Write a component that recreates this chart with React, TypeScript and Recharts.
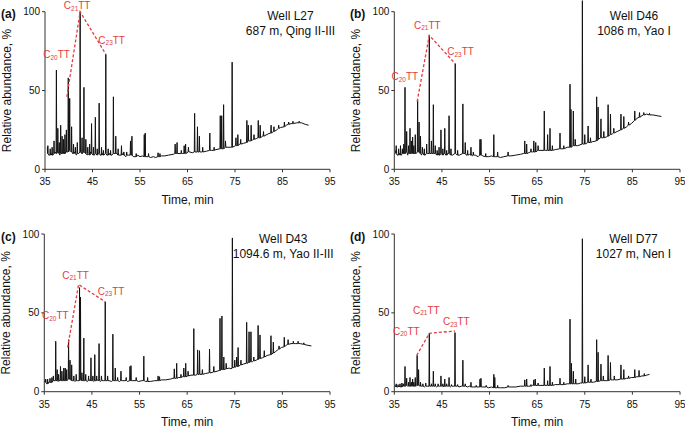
import React from 'react';
import { ComposedChart, Line, XAxis, YAxis, ReferenceLine, LabelList } from 'recharts';

type Peak = [number, number, number]; // time, base, top
type Pt = [number, number]; // time, value

const timeTicks = [35, 45, 55, 65, 75, 85, 95];
const abundanceTicks = [0, 50, 100];
const annotNames = ['20', '21', '23'];

// ---------------- Panel (a) Well L27 ----------------
const peaksA: Peak[] = [
  [35.6, 10, 15], [36.1, 9, 13], [36.5, 9, 14], [36.9, 10, 18], [37.4, 10, 63], [37.7, 11, 26],
  [38.0, 10, 17], [38.3, 10, 28], [38.6, 10, 21], [38.9, 10, 19], [39.2, 10, 22], [39.5, 11, 25],
  [39.9, 11, 58], [40.2, 12, 45], [40.6, 11, 27], [41.0, 10, 16], [41.4, 10, 14], [41.8, 10, 17],
  [42.4, 11, 100], [42.8, 10, 20], [43.2, 11, 52], [43.6, 10, 19], [44.0, 10, 14], [44.4, 9, 16],
  [44.8, 10, 29], [45.2, 9, 14], [45.6, 10, 33], [46.0, 9, 13], [46.4, 10, 42], [46.9, 9, 14],
  [47.3, 9, 12], [47.8, 10, 73], [48.3, 9, 13], [48.8, 9, 12], [49.4, 10, 46], [49.9, 10, 21],
  [50.4, 9, 13], [51.1, 9, 15], [51.6, 9, 11], [52.2, 9, 11], [53.0, 9, 18], [53.3, 9, 21],
  [54.2, 8, 10], [55.9, 8, 22], [56.1, 8, 23], [56.8, 8, 10], [58.8, 8, 10.5], [59.2, 8, 10],
  [62.4, 10, 16], [62.8, 10, 17], [63.7, 10, 12], [64.3, 10, 15], [64.6, 10, 16], [65.2, 11, 14],
  [66.5, 11, 35.5], [67.1, 11, 27], [67.5, 11, 21], [68.2, 11, 14], [69.7, 12, 23], [70.6, 12, 14],
  [71.9, 13, 34], [72.2, 13, 34], [72.6, 13, 41], [73.0, 14, 18], [74.4, 14, 68], [75.2, 15, 20],
  [75.6, 15, 22], [76.2, 16, 19], [77.5, 17, 31], [77.8, 18, 28], [78.4, 18, 28], [79.0, 19, 22],
  [79.9, 20, 31], [80.3, 20, 28], [81.0, 21, 24], [82.6, 23, 28], [83.2, 24, 27], [84.2, 26, 28],
  [85.4, 27, 30], [86.3, 28.5, 30], [87.2, 29, 30.5], [88.5, 29.5, 30.5],
];
const baseA: Pt[] = [
  [35.5, 14], [35.8, 9], [36.3, 10], [36.7, 9], [37.1, 11], [38.1, 9], [39.0, 11], [40.8, 10],
  [41.2, 11], [41.6, 9], [42.1, 10], [43.9, 9], [44.6, 11], [45.4, 9], [46.2, 10], [46.6, 9],
  [47.1, 10], [48.0, 9], [48.6, 10], [49.1, 9], [50.2, 10], [50.8, 9], [51.4, 10], [52.0, 8],
  [52.6, 9], [53.6, 8], [54.5, 9], [55.0, 8], [55.5, 8.5], [56.5, 8], [57.2, 7.5], [57.8, 8],
  [58.3, 7.5], [59.5, 8.5], [60.2, 8.5], [61.0, 9], [62.0, 9.5], [63.0, 10], [64.0, 10],
  [65.5, 11], [66.0, 10.5], [68.0, 11], [69.0, 11.5], [70.0, 12], [71.0, 12.5], [72.8, 13.5],
  [73.5, 14], [74.0, 14], [74.8, 14.5], [76.0, 16], [76.8, 16.5], [78.8, 19], [79.5, 19.5],
  [80.8, 21], [82.0, 22.5], [83.8, 25], [84.6, 26.5], [85.8, 28], [86.8, 29], [88.0, 29.5],
  [89.0, 29.5], [89.8, 28.5], [90.5, 28],
];
const annotA: Pt[] = [[39.6, 46], [42.4, 100], [47.8, 73]];

// ---------------- Panel (b) Well D46 ----------------
const peaksB: Peak[] = [
  [35.4, 10, 15], [35.9, 9, 13], [36.3, 9, 15], [36.7, 10, 13], [37.0, 10, 16], [37.25, 10, 52],
  [37.6, 11, 24], [38.0, 10, 15], [38.3, 10, 26], [38.6, 10, 18], [38.85, 10, 20.5], [39.1, 10, 15],
  [39.4, 10, 22], [39.9, 11, 44], [40.2, 11, 30], [40.5, 10, 21], [40.9, 10, 14], [41.3, 9, 13],
  [41.8, 10, 16], [42.35, 10, 85], [42.8, 10, 18], [43.2, 10, 41], [43.6, 10, 15], [44.0, 9, 12],
  [44.4, 9, 14], [44.8, 10, 25], [45.2, 9, 13], [45.6, 10, 26], [46.0, 9, 12], [46.5, 10, 34],
  [46.9, 9, 13], [47.8, 10, 67], [48.3, 9, 12], [49.4, 10, 41.5], [49.9, 10, 17], [50.4, 9, 12],
  [51.1, 9, 14], [51.6, 9, 11], [53.0, 9, 19], [53.2, 9, 19], [54.2, 8, 10], [55.9, 8, 22],
  [56.7, 8, 11], [58.9, 8.5, 11], [62.4, 10, 18], [62.8, 10, 16], [63.7, 11, 13], [64.3, 11, 18],
  [64.7, 11, 17], [65.2, 12, 15], [66.5, 12, 37], [67.2, 12, 22], [67.7, 12, 26], [68.2, 12, 15],
  [69.8, 13, 23], [70.6, 13, 15], [71.9, 14, 54], [72.1, 14, 38], [72.6, 15, 37], [73.0, 15, 19],
  [74.5, 16, 107], [75.0, 16, 22], [75.7, 17, 27.5], [76.2, 17, 20], [77.5, 18, 46], [77.8, 19, 39.5],
  [78.4, 20, 32], [79.0, 20, 24], [79.9, 21, 41], [80.4, 22, 35], [81.1, 23, 26], [82.6, 25, 35],
  [83.2, 26, 33.5], [84.2, 28, 30], [85.5, 31, 37], [86.5, 33, 36], [87.4, 34.5, 36], [88.6, 34.5, 35.5],
];
const baseB: Pt[] = [
  [35.3, 12], [35.6, 9], [36.1, 10], [36.5, 9], [36.85, 11], [37.8, 9], [39.6, 10], [40.7, 9],
  [41.1, 10], [41.5, 9], [42.0, 10], [43.9, 9], [44.2, 10], [44.6, 9], [45.4, 10], [45.8, 9],
  [46.2, 10], [47.2, 9], [48.0, 9.5], [48.7, 9], [50.1, 9], [50.8, 9.5], [51.4, 8.5], [52.0, 9],
  [52.6, 8], [53.6, 8.5], [54.8, 8], [55.4, 8.5], [56.3, 8], [57.3, 7.5], [58.0, 8], [59.5, 8.5],
  [60.5, 9], [61.5, 9.5], [62.1, 10], [63.2, 10.5], [64.0, 11], [65.8, 12], [66.8, 12], [68.8, 12.5],
  [70.0, 13], [71.3, 14], [73.5, 15], [74.0, 15.5], [74.8, 16], [76.6, 17.5], [78.8, 20], [79.5, 20.5],
  [80.8, 22.5], [81.8, 24], [83.8, 27], [84.8, 29], [86.0, 32.5], [87.0, 34], [88.0, 35], [89.3, 34.5],
  [90.2, 34], [91.1, 33.5],
];
const annotB: Pt[] = [[39.8, 43], [42.35, 85], [47.8, 67]];

// ---------------- Panel (c) Well D43 ----------------
const peaksC: Peak[] = [
  [35.3, 6, 8], [35.7, 5, 8], [36.2, 6, 8.5], [36.6, 6, 9], [36.9, 7, 10], [37.4, 7, 32],
  [37.7, 7, 14], [38.0, 7, 11], [38.4, 7, 16], [38.7, 7, 13], [39.1, 7, 15], [39.4, 7, 15],
  [39.7, 7, 14], [40.1, 8, 33], [40.4, 8, 20], [40.75, 7, 17], [41.2, 7, 10], [41.7, 7, 11],
  [42.4, 7, 66], [42.6, 8, 60], [42.9, 7, 12], [43.3, 7, 34], [43.7, 7, 11], [44.3, 7, 10],
  [44.8, 7, 21.5], [45.2, 7, 10], [45.6, 7, 23.5], [46.0, 7, 10], [46.5, 7, 30.5], [47.0, 7, 10],
  [47.8, 7, 57], [48.3, 7, 10], [49.4, 7, 36.5], [49.9, 7, 15], [50.4, 7, 9], [51.1, 7, 13],
  [52.2, 7, 9], [53.0, 7, 16], [53.2, 7, 16.5], [54.3, 7, 9], [55.9, 7, 22.5], [56.7, 6.5, 9],
  [58.9, 7, 10], [59.2, 7, 9.5], [62.3, 8.5, 14.5], [62.8, 8.5, 18], [63.7, 9, 11], [64.3, 9.5, 15],
  [64.7, 9.5, 18], [65.2, 10, 13], [66.4, 10.5, 40], [67.2, 11, 26.5], [67.6, 11, 26], [68.2, 11, 14],
  [69.7, 12, 27], [70.6, 12.5, 16], [71.9, 13.5, 46.5], [72.3, 14, 48], [72.7, 14, 22], [73.2, 14.5, 18],
  [74.5, 15, 97.5], [75.0, 15.5, 20], [75.4, 16, 22], [75.7, 16, 28], [76.3, 17, 20], [77.5, 18, 44],
  [78.0, 18.5, 38], [78.4, 19, 38], [79.0, 19.5, 22], [79.9, 20.5, 42], [80.3, 21, 36], [81.2, 22, 26],
  [82.6, 23.5, 35.5], [83.1, 24.5, 31.5], [84.3, 27, 29], [85.4, 28.5, 34.5], [86.2, 30, 33],
  [87.3, 30.5, 32], [88.3, 30.5, 32], [89.5, 30, 31],
];
const baseC: Pt[] = [
  [35.1, 7], [35.5, 5], [35.9, 6], [36.4, 5.5], [36.75, 6.5], [37.9, 6.5], [38.9, 7], [39.9, 7.5],
  [40.9, 7], [41.4, 6.5], [42.0, 7], [43.5, 7], [44.0, 6.5], [44.6, 7.5], [45.4, 6.5], [46.2, 7.5],
  [46.8, 6.5], [47.4, 7], [48.6, 7], [49.1, 6.5], [50.2, 7], [50.8, 6.5], [51.5, 7], [52.5, 6.5],
  [53.6, 7], [54.8, 6.5], [55.5, 7], [56.3, 6.5], [57.3, 6.5], [58.2, 7], [59.6, 7.5], [60.5, 7.5],
  [61.5, 8], [62.0, 8.5], [63.2, 9], [64.0, 9.5], [65.8, 10.5], [66.8, 10.5], [68.8, 11.5], [70.0, 12],
  [71.3, 13], [73.8, 15], [74.2, 14.5], [74.8, 15.5], [76.8, 17.5], [78.7, 19], [79.5, 20], [80.8, 21.5],
  [81.8, 23], [83.6, 25.5], [84.8, 28], [85.8, 29.5], [86.8, 30.5], [87.8, 30.5], [88.8, 30.5],
  [90.2, 29.5], [91.1, 29],
];
const annotC: Pt[] = [[39.9, 28], [42.2, 68], [47.8, 57]];

// ---------------- Panel (d) Well D77 ----------------
const peaksD: Peak[] = [
  [35.4, 3, 5], [35.8, 3, 4.5], [36.2, 3, 5], [36.6, 3, 5.5], [36.9, 3.5, 5], [37.25, 3.5, 16],
  [37.6, 4, 8.6], [38.0, 3.5, 6], [38.3, 3.5, 9], [38.6, 3.5, 6], [38.85, 3.5, 8], [39.1, 3.5, 6],
  [39.4, 3.5, 9], [39.8, 4, 23], [40.1, 4, 14], [40.5, 3.5, 6], [41.0, 3.5, 5], [41.6, 3.5, 5.5],
  [42.35, 3.5, 37], [42.8, 3.5, 5], [43.2, 3.5, 13], [43.6, 3.5, 5], [44.2, 3.5, 5], [44.8, 3.5, 10],
  [45.2, 3.5, 5], [45.6, 3.5, 8], [46.0, 3.5, 5], [46.5, 3.5, 9], [47.0, 3.5, 4.5], [47.75, 3.5, 37.5],
  [48.3, 3.5, 4.5], [49.4, 3.5, 20], [49.9, 3.5, 5], [51.1, 3, 6], [52.2, 3, 4], [53.0, 3, 8],
  [53.2, 3, 8.5], [54.3, 3, 4], [55.9, 2.5, 11], [56.1, 2.5, 9], [56.7, 2.5, 4], [58.9, 3, 4],
  [62.4, 3.5, 7.5], [62.8, 3.5, 8], [63.7, 3.5, 4.5], [64.3, 4, 7.5], [64.6, 4, 8], [65.2, 4, 5.5],
  [66.5, 4, 15], [67.2, 4, 7], [67.7, 4, 16], [68.2, 4, 6], [69.8, 4.5, 8.5], [70.6, 4.5, 6],
  [71.9, 5, 46], [72.2, 5, 18], [72.6, 5, 13], [73.1, 5, 8], [74.5, 5.5, 97], [75.0, 5.5, 9.5],
  [75.7, 6, 17], [76.3, 6, 8], [77.5, 6.5, 33], [77.8, 6.5, 25], [78.4, 7, 17.5], [78.9, 7, 10],
  [79.9, 7, 23], [80.4, 7.5, 18.5], [81.2, 7.5, 10], [82.6, 8, 17], [83.2, 8, 14], [84.2, 8.5, 10],
  [85.5, 9, 14], [86.4, 9.5, 13.5], [87.5, 10, 11.5],
];
const baseD: Pt[] = [
  [35.2, 4], [35.6, 3], [36.0, 3.5], [36.4, 3], [36.75, 3.5], [37.8, 3.5], [39.6, 3.5], [40.8, 3.5],
  [41.3, 3], [41.9, 3.5], [43.0, 3.5], [43.9, 3], [44.5, 3.5], [45.4, 3], [46.2, 3.5], [46.75, 3],
  [47.4, 3.5], [48.6, 3], [49.1, 3.5], [50.4, 3], [50.8, 3.5], [51.6, 3], [52.6, 3], [53.6, 3],
  [54.8, 2.5], [55.4, 3], [56.4, 2.5], [57.3, 2.5], [58.2, 2.5], [59.5, 3], [60.5, 3], [61.5, 3.5],
  [62.1, 3.5], [63.2, 3.5], [64.0, 4], [65.8, 4], [66.9, 4], [68.8, 4.5], [70.0, 4.5], [71.3, 5],
  [73.6, 5], [74.1, 5.5], [74.8, 5.5], [76.8, 6], [78.7, 7], [79.5, 7], [80.8, 7.5], [81.8, 7.5],
  [83.8, 8.5], [84.8, 9], [85.9, 9.5], [87.0, 10], [88.0, 10.5], [88.6, 11],
];
const annotD: Pt[] = [[39.7, 23], [42.35, 37], [47.75, 38.5]];

// ---------------- styling / layout ----------------
const RED = '#e63a3d';
const INK = '#111111';
const FONT = '"Liberation Sans", Arial, Helvetica, sans-serif';

function buildTrace(peaks: Peak[], base: Pt[]) {
  const pts: { t: number; v: number }[] = [];
  base.forEach(([t, v]) => pts.push({ t, v }));
  peaks.forEach(([t, b, top]) => {
    pts.push({ t: t - 0.07, v: b });
    pts.push({ t, v: top });
    pts.push({ t: t + 0.07, v: b });
  });
  pts.sort((a, b) => a.t - b.t);
  return pts;
}

type Cfg = {
  left: number; top: number; width: number; height: number;
  plotLeft: number; plotRight: number; y100: number; y0: number; yMax: number;
  peaks: Peak[]; base: Pt[]; annot: Pt[];
  letter: string; lines: string[]; textCx: number; textCy: number;
  offs: [number, number][];
};

const panels: Cfg[] = [
  {
    left: 0, top: 0, width: 340, height: 215, plotLeft: 45, plotRight: 330, y100: 11.7, y0: 169.3, yMax: 100,
    peaks: peaksA, base: baseA, annot: annotA, letter: '(a)', lines: ['Well L27', '687 m, Qing II-III'],
    textCx: 290.5, textCy: 16, offs: [[3, -42], [-3, -6], [-7.5, -14]],
  },
  {
    left: 340, top: 0, width: 345, height: 215, plotLeft: 54.3, plotRight: 340, y100: 11.7, y0: 169.3, yMax: 107.4,
    peaks: peaksB, base: baseB, annot: annotB, letter: '(b)', lines: ['Well D46', '1086 m, Yao I'],
    textCx: 294, textCy: 16.7, offs: [[1, -25], [-2, -10], [-8, -12]],
  },
  {
    left: 0, top: 215, width: 340, height: 217, plotLeft: 44.3, plotRight: 330, y100: 19, y0: 176.7, yMax: 100,
    peaks: peaksC, base: baseC, annot: annotC, letter: '(c)', lines: ['Well D43', '1094.6 m, Yao II-III'],
    textCx: 283.2, textCy: 24.3, offs: [[1, -32], [-3, -9], [-7.5, -10.5]],
  },
  {
    left: 340, top: 215, width: 345, height: 217, plotLeft: 54.3, plotRight: 340, y100: 19, y0: 176.7, yMax: 100,
    peaks: peaksD, base: baseD, annot: annotD, letter: '(d)', lines: ['Well D77', '1027 m, Nen I'],
    textCx: 293.5, textCy: 24.3, offs: [[3, -24], [-3, -23], [-12, -9]],
  },
];

function Panel({ cfg }: { cfg: Cfg }) {
  const { left, top, width, height, plotLeft, plotRight, y100, y0, yMax } = cfg;
  const pxPer = (y0 - y100) / 100;
  const plotTop = y0 - yMax * pxPer;
  const xAxisH = 24;
  const data = buildTrace(cfg.peaks, cfg.base);
  const annotData = cfg.annot.map(([t, v]) => ({ t, v }));
  const yLabelX = plotLeft - 38;
  const yLabelY = (y0 + y100) / 2;

  const renderAnnot = (p: any) => {
    const i = p.index as number;
    const [dx, dy] = cfg.offs[i];
    const anchor = ['end', 'middle', 'start'][i] as any;
    return (
      <text key={'an' + i} x={p.x + dx} y={p.y + dy + 3.5} textAnchor={anchor} fill={RED} fontSize={10}>
        C<tspan fontSize={6.5} dy={1.5}>{annotNames[i]}</tspan><tspan dy={-1.5}>TT</tspan>
      </text>
    );
  };

  return (
    <div style={{ position: 'absolute', left, top, width, height }}>
      <ComposedChart
        width={width}
        height={height}
        margin={{ top: plotTop, right: width - plotRight, bottom: height - y0 - xAxisH, left: 0 }}
      >
        <XAxis
          type="number"
          dataKey="t"
          domain={[35, 95]}
          ticks={timeTicks}
          height={xAxisH}
          tickSize={3}
          tickMargin={6}
          stroke="#333"
          tick={{ fontSize: 10, fill: INK }}
          label={{ value: 'Time, min', position: 'bottom', offset: 2, fontSize: 12, fill: INK }}
        />
        <YAxis
          type="number"
          domain={[0, yMax]}
          ticks={abundanceTicks}
          width={plotLeft}
          axisLine={false}
          tickSize={3}
          tickMargin={2}
          stroke="#333"
          tick={{ fontSize: 10, fill: INK }}
          label={() => (
            <text
              x={yLabelX}
              y={yLabelY}
              transform={`rotate(-90 ${yLabelX} ${yLabelY})`}
              textAnchor="middle"
              dominantBaseline="central"
              fontSize={12}
              fill={INK}
            >
              Relative abundance, %
            </text>
          )}
        />
        <ReferenceLine segment={[{ x: 35, y: 0 }, { x: 35, y: 100 }]} stroke="#333" ifOverflow="visible" />
        <Line
          data={data}
          dataKey="v"
          type="linear"
          dot={false}
          activeDot={false}
          stroke={INK}
          strokeWidth={1}
          isAnimationActive={false}
        />
        <Line
          data={annotData}
          dataKey="v"
          type="linear"
          dot={false}
          activeDot={false}
          stroke={RED}
          strokeWidth={1.3}
          strokeDasharray="3 2"
          isAnimationActive={false}
        >
          <LabelList dataKey="v" content={renderAnnot} />
        </Line>
      </ComposedChart>
      <div
        style={{
          position: 'absolute', left: cfg.left === 0 ? 1 : 10, top: (cfg.top === 0 ? 14.3 : 21.7) - 7,
          fontSize: 12, fontWeight: 'bold', lineHeight: '14px', color: INK,
        }}
      >
        {cfg.letter}
      </div>
      <div
        style={{
          position: 'absolute', left: cfg.textCx - 70, width: 140, top: cfg.textCy - 7.5,
          textAlign: 'center', fontSize: 12, lineHeight: '15px', color: INK, whiteSpace: 'nowrap',
        }}
      >
        {cfg.lines.map((l) => (
          <div key={l}>{l}</div>
        ))}
      </div>
    </div>
  );
}

export default function App() {
  return (
    <div
      style={{
        position: 'absolute', left: 0, top: 0, width: 685, height: 432, background: '#fff',
        fontFamily: FONT, overflow: 'hidden',
      }}
    >
      {panels.map((p) => (
        <Panel key={p.letter} cfg={p} />
      ))}
    </div>
  );
}
